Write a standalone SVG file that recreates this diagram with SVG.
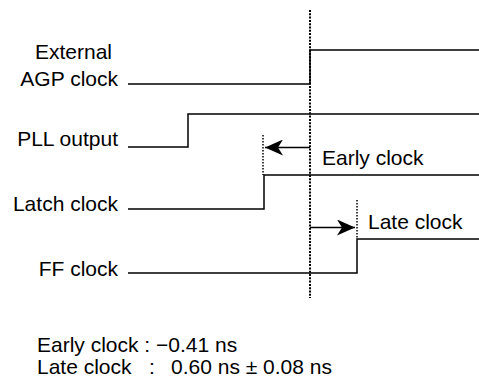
<svg xmlns="http://www.w3.org/2000/svg" width="479" height="380" viewBox="0 0 479 380">
  <style>
    .sig { fill: none; stroke: #000; stroke-width: 1.5; }
    .dot { fill: none; stroke: #000; stroke-width: 2; stroke-dasharray: 2 1.3; }
    .thin { fill: none; stroke: #000; stroke-width: 1.5; stroke-dasharray: 1.5 1.5; }
    .arr { fill: none; stroke: #000; stroke-width: 1.5; }
    text { font-family: "Liberation Sans", Arial, sans-serif; font-size: 21px; fill: #000; }
    .r { text-anchor: end; }
  </style>
  <defs>
    <marker id="head" markerUnits="userSpaceOnUse" markerWidth="20" markerHeight="16" viewBox="0 0 20 16" refX="18" refY="8" orient="auto">
      <path d="M0,0 L18,8 L0,16 L5,8 Z" fill="#000"/>
    </marker>
  </defs>

  <g id="labels">
    <text class="r" x="112" y="59">External</text>
    <text class="r" x="118" y="86">AGP clock</text>
    <text class="r" x="118" y="146">PLL output</text>
    <text class="r" x="118" y="211">Latch clock</text>
    <text class="r" x="118" y="276">FF clock</text>
  </g>

  <g id="ext-agp-clock">
    <path class="sig" d="M128,84 H310 V50 H479"/>
  </g>
  <g id="pll-output">
    <path class="sig" d="M128,147 H188 V114 H479"/>
  </g>
  <g id="latch-clock">
    <path class="sig" d="M128,209 H264 V175 H479"/>
  </g>
  <g id="ff-clock">
    <path class="sig" d="M128,273 H357 V239 H479"/>
  </g>

  <g id="connectors">
    <line class="dot" x1="310" y1="10" x2="310" y2="298"/>
    <line class="thin" x1="263" y1="135" x2="263" y2="175"/>
    <line class="thin" x1="357" y1="200" x2="357" y2="239"/>
    <line class="arr" x1="310" y1="147.5" x2="265" y2="147.5" marker-end="url(#head)"/>
    <line class="arr" x1="310" y1="227.5" x2="355" y2="227.5" marker-end="url(#head)"/>
  </g>

  <g id="offset-labels">
    <text x="322" y="165">Early clock</text>
    <text x="368" y="229">Late clock</text>
  </g>

  <g id="summary">
    <text x="37" y="352">Early clock : −0.41 ns</text>
    <text y="374"><tspan x="37">Late clock</tspan><tspan x="149">:</tspan><tspan x="171">0.60 ns ± 0.08 ns</tspan></text>
  </g>
</svg>
